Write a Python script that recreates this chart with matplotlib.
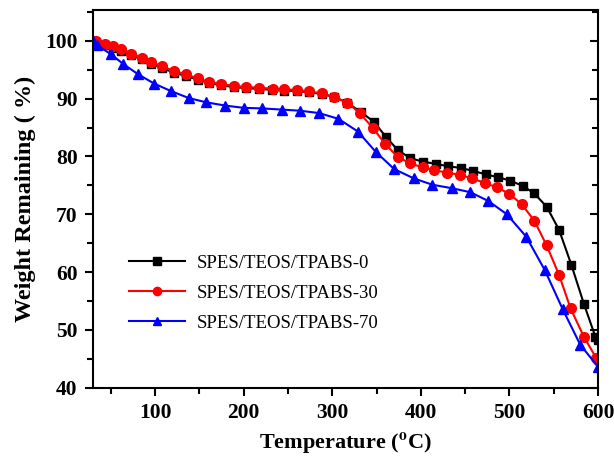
import matplotlib
matplotlib.use('Agg')
import matplotlib.pyplot as plt
from matplotlib.ticker import MultipleLocator

plt.rcParams['font.family'] = ['Liberation Serif', 'DejaVu Serif']
plt.rcParams['mathtext.fontset'] = 'stix'

# TGA curves
temp_0 = [30, 44, 53, 62, 73, 85, 96, 108, 121, 135, 148, 161, 175, 189, 203, 217,
          232, 246, 260, 274, 288, 302, 317, 332, 347, 361, 374, 388, 402, 417, 431,
          445, 459, 473, 487, 501, 515, 528, 542, 556, 570, 584, 597, 600]
weight_0 = [100.0, 99.2, 98.8, 98.3, 97.5, 96.8, 96.0, 95.3, 94.5, 93.9, 93.3, 92.7,
            92.3, 92.0, 91.8, 91.7, 91.5, 91.4, 91.3, 91.1, 90.8, 90.3, 89.3, 87.7,
            86.0, 83.3, 81.1, 79.7, 79.1, 78.7, 78.3, 78.0, 77.5, 76.9, 76.4, 75.8,
            74.9, 73.6, 71.3, 67.3, 61.2, 54.5, 48.8, 48.3]

temp_30 = [30, 33, 44, 53, 62, 73, 85, 96, 108, 121, 135, 148, 161, 175, 189, 203,
           217, 233, 246, 260, 274, 288, 302, 317, 331, 346, 360, 374, 388, 402, 415,
           430, 444, 458, 472, 486, 500, 514, 528, 542, 556, 569, 584, 598, 600]
weight_30 = [100.0, 100.0, 99.4, 99.1, 98.6, 97.8, 97.1, 96.3, 95.6, 94.8, 94.2, 93.5,
             92.9, 92.5, 92.2, 92.0, 91.9, 91.7, 91.6, 91.5, 91.25, 90.9, 90.3, 89.3,
             87.5, 84.9, 82.1, 79.9, 78.8, 78.1, 77.6, 77.2, 76.8, 76.2, 75.4, 74.65,
             73.5, 71.7, 68.9, 64.6, 59.5, 53.7, 48.8, 45.1, 44.8]

temp_70 = [30, 35, 50, 64, 81, 99, 118, 138, 158, 179, 200, 221, 243, 264, 285, 307,
           329, 349, 370, 392, 413, 435, 456, 476, 497, 519, 540, 560, 580, 600]
weight_70 = [100.0, 99.2, 97.7, 96.0, 94.2, 92.6, 91.3, 90.1, 89.35, 88.8, 88.4, 88.3,
             88.1, 87.9, 87.5, 86.5, 84.3, 80.8, 77.8, 76.2, 75.1, 74.5, 73.8, 72.3,
             70.0, 66.1, 60.3, 53.6, 47.4, 43.6]

labels = ['SPES/TEOS/TPABS-0', 'SPES/TEOS/TPABS-30', 'SPES/TEOS/TPABS-70']

fig = plt.figure(figsize=(6.14, 4.62), dpi=100)
ax = fig.add_axes([0.1515, 0.161, 0.8225, 0.817])

ax.plot(temp_0, weight_0, color='black', marker='s', markersize=6, linewidth=1.5, label=labels[0])
ax.plot(temp_30, weight_30, color='red', marker='o', markersize=7, linewidth=1.5, label=labels[1])
ax.plot(temp_70, weight_70, color='blue', marker='^', markersize=7.5, linewidth=1.5, label=labels[2])

ax.set_xlim(30, 600)
ax.set_ylim(40, 105.3)
ax.xaxis.set_major_locator(MultipleLocator(100))
ax.xaxis.set_minor_locator(MultipleLocator(50))
ax.yaxis.set_major_locator(MultipleLocator(10))
ax.yaxis.set_minor_locator(MultipleLocator(5))

for side in ['left', 'right', 'top', 'bottom']:
    ax.spines[side].set_linewidth(1.5)

ax.tick_params(axis='both', which='both', direction='out', width=1.5, labelsize=15.5)
ax.tick_params(axis='both', which='major', length=6, pad=5)
ax.tick_params(axis='both', which='minor', length=4)
ax.tick_params(axis='y', which='both', right=True)
for t in ax.get_xticklabels() + ax.get_yticklabels():
    t.set_fontweight('bold')

# right spine ticks point inwards
for tick in ax.yaxis.get_major_ticks() + ax.yaxis.get_minor_ticks():
    tick.tick2line.set_marker(matplotlib.lines.TICKLEFT)

ax.set_xlabel('Temperature ($\\mathbf{^{o}}$C)', fontsize=16, fontweight='bold', labelpad=6)
ax.set_ylabel('Weight Remaining ( %)', fontsize=17.5, fontweight='bold', labelpad=7)

leg = ax.legend(loc='center left', bbox_to_anchor=(0.071, 0.25), frameon=False, fontsize=13.5,
                handlelength=3.0, handletextpad=0.6, labelspacing=0.69, borderpad=0,
                borderaxespad=0, markerscale=0.85)

plt.savefig('out.png', dpi=100)
